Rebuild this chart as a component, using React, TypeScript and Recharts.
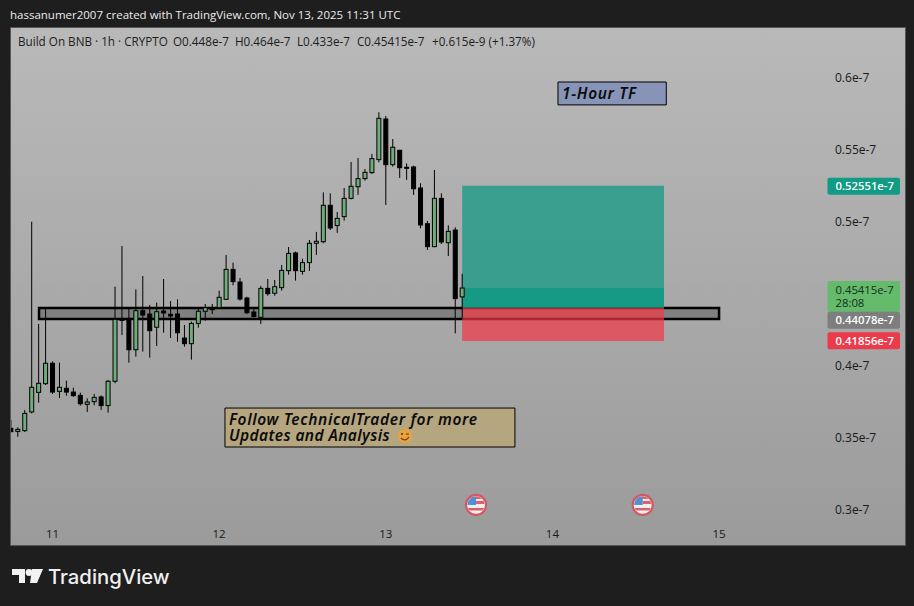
import React from "react";
import { ComposedChart, Bar, XAxis, YAxis, ReferenceArea, ReferenceLine, ReferenceDot } from "recharts";

// prices are in units of 1e-10 (448 = 0.448e-7)
const hours = Array.from({ length: 66 }, (_, i) => i - 6);
const opens = [356.7,354.6,355.1,368.1,381.7,387.7,401.9,382.4,384.5,381.9,379.6,373.4,375.2,378.5,372.5,389.4,432.4,432.4,411.3,438.4,436.1,426.9,438.2,435.9,436.1,419.4,415.5,429.6,438.0,439.6,440.5,446.3,467.1,458.3,447.2,437.5,433.8,453.9,450.5,454.4,466.2,478.5,465.7,471.8,485.2,486.3,511.6,497.5,503.7,516.4,524.5,530.1,534.3,543.3,571.5,539.8,549.8,538.0,538.2,523.6,498.8,482.9,516.4,485.6,494.4,448];
const highs = [362.5,357.4,369.4,500.2,429.2,439.4,403.2,402.3,389.8,385.0,381.5,377.5,380.6,379.6,390.3,455.1,483.3,440.0,453.2,462.5,442.4,444.0,460.4,445.1,446.3,428.5,430.8,440.0,443.1,443.1,452.3,477.1,471.8,461.1,448.1,439.4,455.6,460.4,459.7,470.1,482.6,479.4,474.5,487.5,493.1,520.6,519.9,506.9,523.6,541.7,544.4,536.8,547.2,576.2,573.6,557.6,549.8,540.7,539.1,526.9,500.7,536.1,519.9,497.7,496.3,464];
const lows = [354.4,350.9,354.2,367.1,374.5,386.8,380.6,377.8,379.4,378.7,372.5,368.1,372.7,369.4,367.6,388.0,421.5,402.3,406.5,410.0,405.8,413.9,423.1,419.4,416.9,413.4,404.4,426.6,431.5,436.1,440.0,446.3,456.0,445.4,436.1,433.8,429.2,448.8,448.8,452.3,463.4,459.3,463.4,466.0,477.1,485.2,494.4,492.4,500.9,515.7,518.8,528.7,533.3,541.4,511.8,538.4,530.6,529.2,518.8,495.6,480.6,482.4,484.7,476.4,422.7,433];
const closes = [354.4,356.0,367.1,385.2,388.0,401.9,381.9,385.2,381.9,379.4,373.8,375.0,378.2,372.5,389.4,432.4,432.0,411.3,438.4,435.4,424.5,437.7,436.8,434.7,423.1,415.5,429.6,438.0,440.5,439.8,447.7,467.1,458.6,446.5,437.0,434.3,453.9,450.2,455.1,466.4,478.2,466.2,471.8,485.2,486.6,511.6,495.8,502.5,516.4,524.8,530.1,534.5,544.0,572.0,539.8,551.9,537.7,537.9,523.1,497.9,482.9,516.4,486.1,493.5,446.8,454.15];
const priceTicks = [300, 350, 400, 500, 550, 600];
const priceTickLabels = ["0.3e-7", "0.35e-7", "0.4e-7", "0.5e-7", "0.55e-7", "0.6e-7"];
const dayTicks = [0, 24, 48, 72, 96];
const dayLabels = ["11", "12", "13", "14", "15"];
const legendParts: [string, number][] = [
  ["Build On BNB · 1h · CRYPTO", 18], ["O0.448e-7", 173], ["H0.464e-7", 235], ["L0.433e-7", 297], ["C0.45415e-7", 357], ["+0.615e-9 (+1.37%)", 432],
];
const candleTable = hours.map((h, i) => ({ h, o: opens[i], c: closes[i], range: [lows[i], highs[i]] }));
const xDomain = [-5.977, 122.78];
const yDomain = [275.7, 634.7];

const SANS = "'Open Sans','Noto Sans',sans-serif";

function Candle(props: any) {
  const { x, y, width, height, payload } = props;
  const [lo, hi] = payload.range;
  const yOf = (v: number) => y + ((hi - v) / (hi - lo)) * height;
  const cx = x + width / 2;
  const top = yOf(Math.max(payload.o, payload.c));
  const bot = yOf(Math.min(payload.o, payload.c));
  const up = payload.c >= payload.o;
  return (
    <g>
      <line x1={cx} x2={cx} y1={y} y2={y + height} stroke="#000" strokeWidth={1} />
      <rect x={cx - 2} y={top} width={4} height={Math.max(bot - top, 1)} fill={up ? "#6fad79" : "#000"} stroke="#000" strokeWidth={1} />
    </g>
  );
}

function PriceTag({ viewBox, text, fill, color, sub, h = 17, weight = 600 }: any) {
  const x = 816.5;
  const y = viewBox.y - 8.5;
  return (
    <g>
      <rect x={x} y={y} width={72.5} height={h} rx={2} fill={fill} />
      <text x={x + 8} y={y + 12.5} fontSize={11.3} fontWeight={weight} fontFamily={SANS} fill={color}>{text}</text>
      {sub ? <text x={x + 8} y={y + 26} fontSize={11.3} fontWeight={weight} fontFamily={SANS} fill={color}>{sub}</text> : null}
    </g>
  );
}

function Flag(props: any) {
  const { cx, cy } = props;
  return (
    <g>
      <circle cx={cx} cy={cy} r={10} fill="#f1eeee" stroke="#cf5a66" strokeWidth={2.2} />
      <clipPath id={`f${Math.round(cx)}`}><circle cx={cx} cy={cy} r={8.6} /></clipPath>
      <g clipPath={`url(#f${Math.round(cx)})`}>
        <rect x={cx - 9} y={cy - 9} width={18} height={3} fill="#d9606a" />
        <rect x={cx} y={cy - 4} width={9} height={3} fill="#d9606a" />
        <rect x={cx - 9} y={cy + 3} width={18} height={2.5} fill="#d9606a" />
        <rect x={cx - 9} y={cy - 8} width={9} height={8} fill="#4f8fd6" />
      </g>
    </g>
  );
}

function NoteText({ viewBox, lines, emoji }: any) {
  const x = viewBox.x + 4;
  const base = viewBox.y + 17;
  const font = { fontSize: 15.5, fontFamily: "'Noto Sans',sans-serif", fontWeight: 600, fontStyle: "italic", fill: "#0c0c0c" } as const;
  return (
    <g>
      {lines.map((t: string, i: number) => (
        <text key={t} x={x} y={base + i * 16} letterSpacing={i === 0 ? 0.65 : 0.4} {...font}>{t}</text>
      ))}
      {emoji ? (
        <g>
          <circle cx={x + 176} cy={base + 11} r={7} fill="#e8a33c" />
          <path d={`M${x + 172} ${base + 13} q4 4 8 -1`} stroke="#7a3d12" strokeWidth={1.2} fill="none" />
          <circle cx={x + 173} cy={base + 9} r={1} fill="#5a2d0c" />
          <path d={`M${x + 177} ${base + 9} h3`} stroke="#5a2d0c" strokeWidth={1} />
        </g>
      ) : null}
    </g>
  );
}

function App() {
  return (
    <div style={{ position: "absolute", left: 0, top: 0, width: 914, height: 606, background: "#1e1e1e", overflow: "hidden" }}>
      <div style={{ position: "absolute", left: 10, top: 14, transform: "translateY(-50%)", color: "#ececec", font: `11.5px ${SANS}`, whiteSpace: "nowrap" }}>
        hassanumer2007 created with TradingView.com, Nov 13, 2025 11:31 UTC
      </div>
      <div style={{ position: "absolute", left: 10, top: 27, width: 894, height: 517, border: "1px solid #565656", background: "linear-gradient(#b9b9b9, #9b9b9b)" }} />
      <div style={{ position: "absolute", left: 11, top: 28 }}>
        <ComposedChart width={895} height={518} data={candleTable} margin={{ left: 0, right: 0, top: 0, bottom: 0 }}>
          <XAxis
            dataKey="h" type="number" domain={xDomain} ticks={dayTicks} allowDataOverflow height={1}
            axisLine={false} tickLine={false} interval={0}
            tick={(p: any) => (
              <text x={p.x} y={p.y - 15} textAnchor="middle" fontSize={11.5} fontFamily={SANS} fill="#1a1a1a">
                {dayLabels[dayTicks.indexOf(p.payload.value)]}
              </text>
            )}
          />
          <YAxis
            type="number" domain={yDomain} ticks={priceTicks} allowDataOverflow orientation="right" width={1}
            axisLine={false} tickLine={false} interval={0}
            tick={(p: any) => (
              <text x={p.x - 78} y={p.y + 4} fontSize={12} fontFamily={SANS} fill="#1a1a1a">
                {priceTickLabels[priceTicks.indexOf(p.payload.value)]}
              </text>
            )}
          />
          <ReferenceArea x1={-1.94} x2={96} y1={432.6} y2={440.3} fill="#808080" fillOpacity={1} stroke="#000" strokeWidth={2.5} zIndex={100} />
          <ReferenceLine y={454.15} stroke="#8fb592" strokeDasharray="1 2" strokeWidth={1} zIndex={110} />
          <Bar dataKey="range" barSize={5} isAnimationActive={false} shape={Candle} zIndex={300} />
          <ReferenceArea x1={59} x2={88.07} y1={440.5} y2={525.2} fill="#089981" fillOpacity={0.7} stroke="none" zIndex={250} />
          <ReferenceArea x1={59} x2={88.07} y1={440.5} y2={454.15} fill="#089981" fillOpacity={0.7} stroke="none" zIndex={260} />
          <ReferenceArea x1={59} x2={88.07} y1={417.4} y2={440.5} fill="#f23645" fillOpacity={0.7} stroke="none" zIndex={260} />
          <ReferenceArea x1={72.8} x2={88.4} y1={581.3} y2={597.2} fill="#8794b8" fillOpacity={1} stroke="#000" strokeWidth={1} zIndex={400}
            label={(p: any) => <NoteText viewBox={p.viewBox} lines={["1-Hour TF"]} />} />
          <ReferenceArea x1={24.84} x2={66.6} y1={343.75} y2={370.8} fill="#b5a680" fillOpacity={1} stroke="#000" strokeWidth={1} zIndex={400}
            label={(p: any) => <NoteText viewBox={p.viewBox} lines={["Follow TechnicalTrader for more", "Updates and Analysis"]} emoji />} />
          <ReferenceDot x={61} y={303.5} shape={Flag} zIndex={400} />
          <ReferenceDot x={85} y={303.5} shape={Flag} zIndex={400} />
          <ReferenceLine y={525.51} stroke="none" zIndex={500} label={(p: any) => <PriceTag viewBox={{ y: p.viewBox.y + 1 }} text="0.52551e-7" fill="#0f9b84" color="#fff" />} />
          <ReferenceLine y={454.15} stroke="none" zIndex={500} label={(p: any) => <PriceTag viewBox={{ y: p.viewBox.y + 1.5 }} text="0.45415e-7" sub="28:08" fill="#66ba6c" color="#12301a" h={31} weight={400} />} />
          <ReferenceLine y={440.78} stroke="none" zIndex={510} label={(p: any) => <PriceTag viewBox={{ y: p.viewBox.y + 13 }} text="0.44078e-7" fill="#7e7e7e" color="#fff" />} />
          <ReferenceLine y={418.56} stroke="none" zIndex={510} label={(p: any) => <PriceTag viewBox={{ y: p.viewBox.y + 1.5 }} text="0.41856e-7" fill="#ec3a4b" color="#fff" />} />
        </ComposedChart>
      </div>
      {legendParts.map(([t, x]) => (
        <div key={t} style={{ position: "absolute", left: x, top: 41, transform: "translateY(-50%)", color: "#1d1d1d", font: `11.7px ${SANS}`, whiteSpace: "pre" }}>
          {t}
        </div>
      ))}
      <svg style={{ position: "absolute", left: 12, top: 568 }} width={32} height={18}>
        <path d="M0 1 H13 V15 H7 V7 H0 Z M20 1 H31 L25 15 H18 Z" fill="#f2f2f2" />
        <circle cx={17} cy={4.5} r={3.4} fill="#f2f2f2" />
      </svg>
      <div style={{ position: "absolute", left: 48, top: 576, transform: "translateY(-50%)", color: "#f0f0f0", font: `500 20.3px Inter,${SANS}`, whiteSpace: "nowrap" }}>
        TradingView
      </div>
    </div>
  );
}

export default App;
